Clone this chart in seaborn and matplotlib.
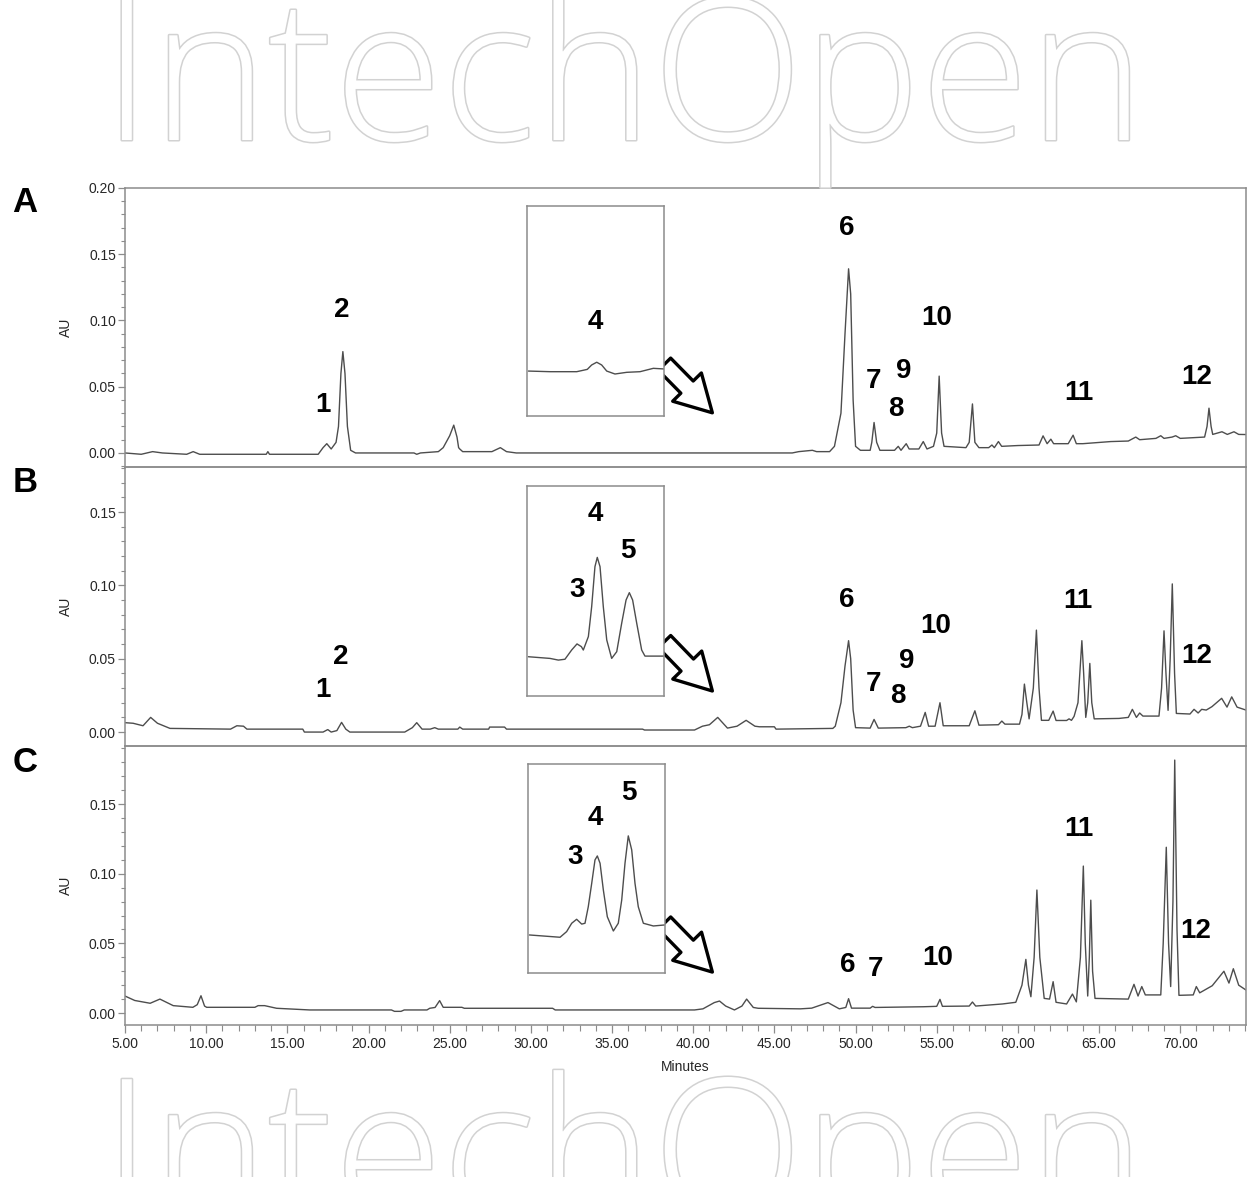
import matplotlib
matplotlib.use("Agg")
import numpy as np
import pandas as pd
import matplotlib.pyplot as plt
import seaborn as sns
import matplotlib.patheffects as pe
from matplotlib.ticker import MultipleLocator, FormatStrFormatter, NullLocator

# ---------------- data ----------------
# Chromatogram A: (minutes, AU)
trace_a = [
    (5.0, 0.000), (6.0, -0.001), (6.7, 0.001), (7.3, 0.000), (8.8, -0.001), (9.2, 0.001),
    (9.6, -0.001), (13.7, -0.001), (13.8, 0.001), (13.9, -0.001), (16.9, -0.001),
    (17.2, 0.004), (17.43, 0.007), (17.7, 0.003), (18.0, 0.008), (18.15, 0.020),
    (18.3, 0.060), (18.42, 0.0765), (18.55, 0.060), (18.7, 0.020), (18.9, 0.002),
    (19.2, 0.000), (22.8, 0.000), (22.97, -0.001), (23.2, 0.000), (24.3, 0.001),
    (24.6, 0.004), (25.0, 0.013), (25.25, 0.021), (25.45, 0.012), (25.55, 0.004),
    (25.62, 0.003), (25.8, 0.001), (27.6, 0.001), (28.12, 0.004), (28.5, 0.001),
    (29.1, 0.000), (46.1, 0.000), (46.5, 0.001), (47.34, 0.002), (47.6, 0.001),
    (48.4, 0.001), (48.7, 0.005), (49.1, 0.030), (49.35, 0.090), (49.57, 0.139),
    (49.7, 0.120), (49.85, 0.040), (50.0, 0.005), (50.3, 0.002), (50.9, 0.002),
    (51.0, 0.008), (51.14, 0.023), (51.3, 0.008), (51.5, 0.002), (52.4, 0.002),
    (52.63, 0.005), (52.8, 0.002), (53.12, 0.007), (53.3, 0.003), (53.9, 0.003),
    (54.17, 0.0086), (54.4, 0.003), (54.8, 0.005), (55.0, 0.015), (55.15, 0.058),
    (55.3, 0.015), (55.45, 0.005), (56.8, 0.004), (57.0, 0.008), (57.2, 0.037),
    (57.35, 0.008), (57.6, 0.004), (58.2, 0.004), (58.4, 0.006), (58.55, 0.004),
    (58.8, 0.0086), (59.0, 0.005), (60.0, 0.0056), (61.3, 0.006), (61.55, 0.0129),
    (61.8, 0.007), (62.03, 0.0104), (62.2, 0.007), (63.1, 0.007), (63.4, 0.0134),
    (63.6, 0.007), (64.0, 0.007), (65.72, 0.0086), (66.8, 0.009), (67.26, 0.012),
    (67.5, 0.010), (68.5, 0.011), (68.8, 0.013), (69.0, 0.011), (69.5, 0.012),
    (69.72, 0.013), (70.0, 0.011), (71.5, 0.012), (71.65, 0.020), (71.77, 0.0338),
    (71.9, 0.020), (72.0, 0.014), (72.57, 0.016), (72.9, 0.014), (73.31, 0.016),
    (73.6, 0.014), (74.05, 0.0139),
]

# Chromatogram B
trace_b = [
    (5.0, 0.0064), (5.5, 0.006), (6.11, 0.0043), (6.58, 0.010), (7.0, 0.006),
    (7.77, 0.0025), (11.5, 0.002), (11.89, 0.0043), (12.3, 0.004), (12.51, 0.002),
    (15.95, 0.002), (16.05, 0.000), (17.2, 0.000), (17.49, 0.0017), (17.7, 0.000),
    (18.05, 0.001), (18.34, 0.0066), (18.6, 0.002), (18.85, 0.000), (22.23, 0.000),
    (22.7, 0.003), (22.97, 0.0064), (23.3, 0.002), (23.8, 0.002), (24.08, 0.003),
    (24.3, 0.002), (25.5, 0.002), (25.62, 0.0034), (25.8, 0.002), (27.4, 0.002),
    (27.46, 0.0034), (28.38, 0.0034), (28.5, 0.002), (36.88, 0.002), (37.0, 0.0014),
    (40.08, 0.0014), (40.57, 0.004), (41.0, 0.005), (41.51, 0.010), (42.11, 0.0027),
    (42.7, 0.004), (43.26, 0.008), (43.8, 0.004), (44.08, 0.0036), (45.0, 0.0036),
    (45.1, 0.002), (48.6, 0.0025), (48.75, 0.004), (49.1, 0.020), (49.35, 0.045),
    (49.57, 0.0623), (49.7, 0.050), (49.85, 0.015), (50.0, 0.003), (50.9, 0.0027),
    (51.14, 0.0086), (51.4, 0.0027), (53.1, 0.003), (53.31, 0.004), (53.5, 0.003),
    (54.0, 0.004), (54.29, 0.0134), (54.5, 0.004), (54.9, 0.004), (55.2, 0.020),
    (55.4, 0.0043), (57.0, 0.0043), (57.35, 0.0145), (57.6, 0.0047), (58.8, 0.005),
    (59.01, 0.0075), (59.2, 0.0054), (60.1, 0.0054), (60.25, 0.012), (60.4, 0.0327),
    (60.55, 0.020), (60.69, 0.009), (60.95, 0.030), (61.14, 0.0695), (61.3, 0.030),
    (61.45, 0.008), (61.9, 0.008), (62.17, 0.0143), (62.35, 0.0079), (63.0, 0.0079),
    (63.15, 0.009), (63.3, 0.008), (63.46, 0.0107), (63.7, 0.020), (63.94, 0.0623),
    (64.05, 0.040), (64.18, 0.010), (64.3, 0.020), (64.43, 0.0468), (64.55, 0.020),
    (64.7, 0.009), (66.23, 0.0093), (66.8, 0.010), (67.05, 0.0155), (67.3, 0.010),
    (67.5, 0.013), (67.7, 0.0109), (68.69, 0.0109), (68.85, 0.030), (69.0, 0.069),
    (69.12, 0.040), (69.25, 0.0148), (69.38, 0.050), (69.51, 0.101), (69.65, 0.040),
    (69.76, 0.0127), (70.6, 0.0123), (70.85, 0.0155), (71.1, 0.013), (71.32, 0.0155),
    (71.6, 0.015), (71.95, 0.0173), (72.55, 0.023), (72.88, 0.017), (73.17, 0.024),
    (73.5, 0.017), (74.05, 0.015),
]

# Chromatogram C
trace_c = [
    (5.0, 0.0122), (5.6, 0.009), (6.55, 0.007), (7.15, 0.010), (7.97, 0.0053),
    (9.18, 0.0041), (9.45, 0.006), (9.68, 0.0124), (9.9, 0.005), (10.03, 0.0041),
    (13.0, 0.0041), (13.2, 0.0053), (13.6, 0.0053), (14.34, 0.0034), (16.38, 0.0022),
    (21.41, 0.0022), (21.6, 0.0012), (22.0, 0.0012), (22.2, 0.0022), (23.6, 0.0022),
    (23.77, 0.0034), (24.1, 0.004), (24.38, 0.0089), (24.6, 0.0041), (25.75, 0.0041),
    (25.9, 0.0034), (31.34, 0.0034), (31.5, 0.0022), (40.08, 0.0022), (40.6, 0.003),
    (41.3, 0.0075), (41.62, 0.0086), (42.0, 0.005), (42.54, 0.0022), (43.0, 0.005),
    (43.29, 0.010), (43.7, 0.004), (44.0, 0.0034), (46.6, 0.0030), (47.3, 0.0035),
    (48.3, 0.0075), (49.0, 0.003), (49.4, 0.004), (49.57, 0.0103), (49.75, 0.0035),
    (50.9, 0.0035), (51.05, 0.0048), (51.2, 0.004), (54.17, 0.0045), (55.0, 0.0048),
    (55.2, 0.0098), (55.35, 0.0048), (57.0, 0.005), (57.2, 0.0079), (57.4, 0.005),
    (59.05, 0.0065), (59.87, 0.0077), (60.25, 0.020), (60.49, 0.0385), (60.65, 0.020),
    (60.8, 0.0117), (61.0, 0.040), (61.17, 0.0883), (61.35, 0.040), (61.62, 0.0105),
    (61.95, 0.010), (62.17, 0.0225), (62.35, 0.0077), (63.0, 0.0065), (63.36, 0.0136),
    (63.6, 0.008), (63.85, 0.040), (64.03, 0.1055), (64.15, 0.050), (64.3, 0.0122),
    (64.4, 0.040), (64.49, 0.081), (64.6, 0.030), (64.75, 0.0105), (66.8, 0.010),
    (67.15, 0.0206), (67.4, 0.0122), (67.63, 0.019), (67.85, 0.013), (68.8, 0.013),
    (68.95, 0.050), (69.14, 0.119), (69.28, 0.050), (69.41, 0.019), (69.55, 0.080),
    (69.66, 0.1816), (69.8, 0.060), (69.92, 0.0127), (70.8, 0.013), (70.99, 0.019),
    (71.2, 0.0145), (71.97, 0.0196), (72.69, 0.030), (73.0, 0.0215), (73.27, 0.0318),
    (73.6, 0.020), (74.05, 0.0165),
]

# Inset (expanded region) traces, box-relative units
inset_a = [(0.01, 0.214), (0.168, 0.211), (0.363, 0.211), (0.44, 0.222), (0.472, 0.243),
           (0.509, 0.256), (0.545, 0.243), (0.582, 0.214), (0.642, 0.200), (0.728, 0.208),
           (0.825, 0.211), (0.922, 0.227), (1.0, 0.224)]
inset_b = [(0.01, 0.187), (0.168, 0.179), (0.229, 0.171), (0.277, 0.175), (0.326, 0.219),
           (0.365, 0.248), (0.397, 0.235), (0.411, 0.219), (0.448, 0.283), (0.472, 0.425),
           (0.496, 0.616), (0.513, 0.660), (0.533, 0.616), (0.557, 0.425), (0.582, 0.267),
           (0.618, 0.179), (0.655, 0.211), (0.691, 0.346), (0.723, 0.457), (0.747, 0.492),
           (0.771, 0.457), (0.801, 0.346), (0.837, 0.219), (0.861, 0.190), (1.0, 0.190)]
inset_c = [(0.01, 0.182), (0.234, 0.171), (0.282, 0.198), (0.319, 0.238), (0.355, 0.257),
           (0.392, 0.234), (0.416, 0.238), (0.44, 0.317), (0.465, 0.429), (0.489, 0.541),
           (0.506, 0.560), (0.526, 0.525), (0.55, 0.397), (0.579, 0.269), (0.623, 0.201),
           (0.659, 0.238), (0.684, 0.349), (0.708, 0.525), (0.732, 0.656), (0.757, 0.589),
           (0.781, 0.429), (0.805, 0.317), (0.842, 0.238), (0.915, 0.225), (1.0, 0.230)]

# Peak number labels: (text, minutes, AU)
labels_a = [("1", 17.18, 0.036), ("2", 18.35, 0.108), ("6", 49.43, 0.170), ("7", 51.09, 0.0545),
            ("9", 52.94, 0.062), ("8", 52.51, 0.033), ("10", 54.97, 0.102), ("11", 63.77, 0.045),
            ("12", 71.03, 0.057)]
labels_b = [("1", 17.18, 0.0286), ("2", 18.29, 0.051), ("6", 49.43, 0.090), ("7", 51.09, 0.0327),
            ("8", 52.63, 0.0245), ("9", 53.12, 0.0484), ("10", 54.91, 0.0723), ("11", 63.71, 0.0893),
            ("12", 71.03, 0.0518)]
labels_c = [("6", 49.49, 0.0345), ("7", 51.22, 0.0316), ("10", 55.03, 0.0395), ("11", 63.77, 0.132),
            ("12", 70.97, 0.0589)]
inset_labels_a = [("4", 0.496, 0.448)]
inset_labels_b = [("4", 0.496, 0.867), ("5", 0.737, 0.69), ("3", 0.365, 0.505)]
inset_labels_c = [("4", 0.489, 0.742), ("5", 0.737, 0.861), ("3", 0.343, 0.555)]

panel_names = ["A", "B", "C"]
y_limits = [(-0.0106, 0.200), (-0.0095, 0.1807), (-0.0086, 0.1917)]
x_limits = (5.0, 74.05)
# arrow from inset box to the zoomed region: (start min, start AU, tip min, tip AU)
arrows = [(38.23, 0.067, 41.18, 0.0303), (38.23, 0.0617, 41.18, 0.028), (38.23, 0.0646, 41.18, 0.0294)]
watermark = "IntechOpen"

# ---------------- styling ----------------
sns.set_theme(style="white")
plt.rcParams["font.family"] = ["Liberation Sans", "DejaVu Sans"]
LINE = "#4d4d4d"
FRAME = "#8c8c8c"
W, H = 1247, 1177

fig = plt.figure(figsize=(W / 100, H / 100), dpi=100)
fig.patch.set_facecolor("white")

# faint outlined watermark (top and bottom, partly off the page as in the reference)
for ybase in (140, 1220):
    fig.text(0.5, 1 - ybase / H, watermark, ha="center", va="baseline", fontsize=142,
             family=["Open Sans", "Lato", "DejaVu Sans"], fontweight="light", color="white",
             path_effects=[pe.withStroke(linewidth=2.2, foreground="#d2d2d2")], zorder=0)

panel_tops = [188, 467, 746]
panel_h = 279
left_px, right_px = 125, 1246
traces = [trace_a, trace_b, trace_c]
insets = [inset_a, inset_b, inset_c]
lab_sets = [labels_a, labels_b, labels_c]
ilab_sets = [inset_labels_a, inset_labels_b, inset_labels_c]
inset_boxes = [(527, 206, 137, 210), (527, 486, 137, 210), (528, 764, 137, 209)]
letter_y = [202, 482, 763]

label_font = dict(fontsize=20, fontweight="bold", color="black", ha="center", va="center")

for i in range(3):
    top = panel_tops[i]
    ax = fig.add_axes([left_px / W, 1 - (top + panel_h) / H, (right_px - left_px) / W, panel_h / H])
    ax.set_facecolor("none")
    df = pd.DataFrame(traces[i], columns=["Minutes", "AU"])
    sns.lineplot(data=df, x="Minutes", y="AU", ax=ax, color=LINE, linewidth=1.0,
                 estimator=None, sort=False)
    ax.set_xlim(*x_limits)
    ax.set_ylim(*y_limits[i])
    for s in ax.spines.values():
        s.set_color(FRAME)
        s.set_linewidth(1.1)
    ax.yaxis.set_major_locator(MultipleLocator(0.05))
    ax.yaxis.set_minor_locator(MultipleLocator(0.01))
    ax.yaxis.set_major_formatter(FormatStrFormatter("%.2f"))
    ax.tick_params(axis="y", which="major", direction="out", length=5, width=0.9,
                   color=FRAME, labelsize=10, pad=1.5, left=True)
    ax.tick_params(axis="y", which="minor", direction="out", length=3, width=0.8,
                   color=FRAME, left=True)
    ax.set_ylabel("AU", fontsize=10)
    ax.yaxis.set_label_coords(-0.0464, 0.5)
    if i < 2:
        ax.xaxis.set_major_locator(NullLocator())
        ax.xaxis.set_minor_locator(NullLocator())
        ax.set_xlabel("")
    else:
        ax.xaxis.set_major_locator(MultipleLocator(5))
        ax.xaxis.set_minor_locator(MultipleLocator(1))
        ax.xaxis.set_major_formatter(FormatStrFormatter("%.2f"))
        ax.tick_params(axis="x", which="major", direction="out", length=6, width=0.9,
                       color=FRAME, labelsize=10, pad=3, bottom=True)
        ax.tick_params(axis="x", which="minor", direction="out", length=4, width=0.8,
                       color=FRAME, bottom=True)
        ax.set_xlabel("Minutes", fontsize=10, labelpad=6)
    ax.grid(False)

    for txt, xx, yy in lab_sets[i]:
        ax.text(xx, yy, txt, **label_font)

    sx, sy, tx, ty = arrows[i]
    ax.annotate("", xy=(tx, ty), xytext=(sx, sy), xycoords="data", textcoords="data",
                arrowprops=dict(arrowstyle="simple,head_length=2.6,head_width=2.9,tail_width=1.25",
                                mutation_scale=10, fc="white", ec="black", lw=2.4,
                                shrinkA=0, shrinkB=0),
                annotation_clip=False)

    # inset box
    bx, by, bw, bh = inset_boxes[i]
    iax = fig.add_axes([bx / W, 1 - (by + bh) / H, bw / W, bh / H])
    iax.set_facecolor("white")
    idf = pd.DataFrame(insets[i], columns=["u", "w"])
    sns.lineplot(data=idf, x="u", y="w", ax=iax, color=LINE, linewidth=1.0,
                 estimator=None, sort=False)
    iax.set_xlim(0, 1)
    iax.set_ylim(0, 1)
    iax.set_xticks([])
    iax.set_yticks([])
    iax.set_xlabel("")
    iax.set_ylabel("")
    for s in iax.spines.values():
        s.set_color(FRAME)
        s.set_linewidth(1.1)
    for txt, xx, yy in ilab_sets[i]:
        iax.text(xx, yy, txt, **label_font)

    fig.text(25 / W, 1 - letter_y[i] / H, panel_names[i], fontsize=25, fontweight="bold",
             ha="center", va="center", color="black")

fig.savefig("out.png", dpi=100, facecolor="white")
